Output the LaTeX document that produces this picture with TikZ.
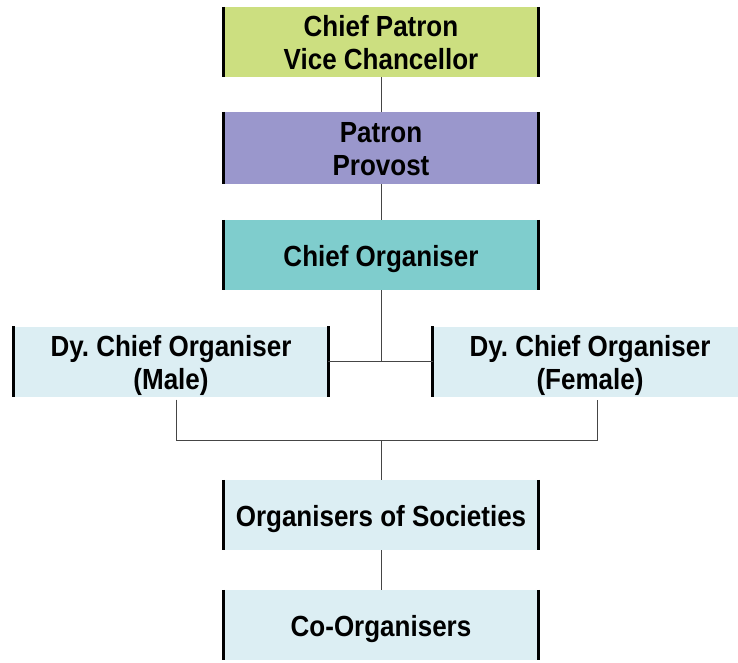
\documentclass[tikz,border=0pt]{standalone}
\usepackage{fontspec}
\usepackage{graphicx}
\setmainfont{Liberation Sans}
\frenchspacing
\definecolor{cgreen}{HTML}{CCDF80}
\definecolor{cpurple}{HTML}{9A97CC}
\definecolor{cteal}{HTML}{7FCDCD}
\definecolor{cblue}{HTML}{DCEEF3}
\definecolor{cline}{HTML}{454545}
\newsavebox{\bxsave}
\newcommand{\bxtxt}[1]{\sbox{\bxsave}{\scalebox{1}[1.12]{\begin{tabular}{@{}c@{}}#1\end{tabular}}}%
  \raisebox{-4.5pt}[\ht\bxsave][\dp\bxsave]{\usebox{\bxsave}}}
\begin{document}
\begin{tikzpicture}[x=1pt,y=-1pt,
  box/.style={minimum width=314pt,minimum height=70pt,inner sep=0pt,align=center,
    font=\fontsize{26}{29.5}\selectfont\bfseries},
  bar/.style={line width=3pt,black},
  conn/.style={line width=1pt,cline}]
\clip (0,0) rectangle (738,662);
\fill[white] (0,0) rectangle (738,662);
\node[box,fill=cgreen] (cp) at (381,42) {\bxtxt{Chief Patron\\Vice Chancellor}};
\node[box,fill=cpurple,minimum height=72pt] (pp) at (381,148) {\bxtxt{Patron\\Provost}};
\node[box,fill=cteal] (co) at (381,255) {\bxtxt{Chief Organiser}};
\node[box,fill=cblue] (dm) at (171,361.5) {\bxtxt{Dy. Chief Organiser\\(Male)}};
\node[box,fill=cblue] (df) at (590,361.5) {\bxtxt{Dy. Chief Organiser\\(Female)}};
\node[box,fill=cblue] (os) at (381,515) {\bxtxt{Organisers of Societies}};
\node[box,fill=cblue] (cg) at (381,625) {\bxtxt{Co-Organisers}};
\foreach \n in {cp,pp,co,dm,df,os,cg}{
  \draw[bar] (\n.north west) -- (\n.south west);
  \draw[bar] (\n.north east) -- (\n.south east);
}
\draw[conn] (cp.south) -- (pp.north);
\draw[conn] (pp.south) -- (co.north);
\draw[conn] (co.south) -- (co.south |- dm.east);
\draw[conn] (dm.east) -- (df.west);
\coordinate (j) at (381,440.5);
\draw[conn] ([xshift=5pt,yshift=-3pt]dm.south) |- (j) -| ([xshift=7pt,yshift=-3pt]df.south);
\draw[conn] (j) -- (os.north);
\draw[conn] (os.south) -- (cg.north);
\end{tikzpicture}
\end{document}
